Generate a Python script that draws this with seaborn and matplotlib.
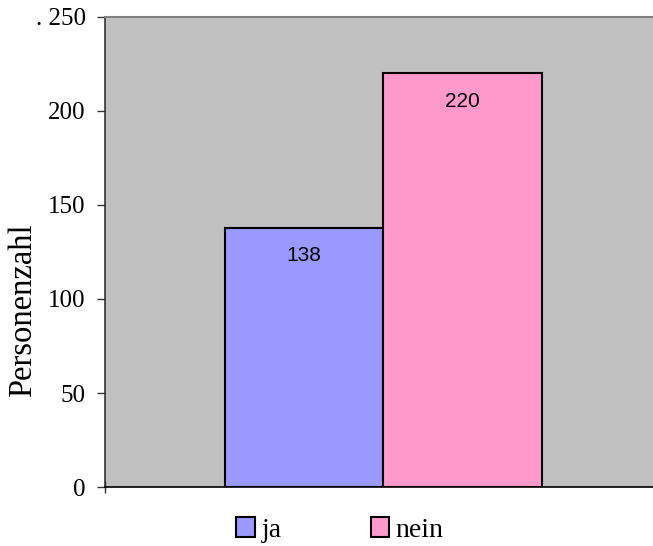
import matplotlib
matplotlib.use("Agg")
import matplotlib.pyplot as plt
import seaborn as sns
import pandas as pd

# Survey answers and head counts
categories = ["ja", "nein"]
counts = [138, 220]
bar_colors = ["#9999FF", "#FF99CC"]
y_ticks = [0, 50, 100, 150, 200, 250]
y_tick_labels = ["0", "50", "100", "150", "200", ". 250"]
y_label = "Personenzahl"

serif = "Liberation Serif"
sans = "Liberation Sans"

df = pd.DataFrame({"Antwort": categories, "Personenzahl": counts})

fig = plt.figure(figsize=(6.53, 5.46), dpi=100)
ax = fig.add_axes([105 / 653, 59 / 546, 548 / 653, 470 / 546])
ax.set_facecolor("#C0C0C0")

sns.barplot(data=df, x="Antwort", y="Personenzahl", hue="Antwort",
            palette=bar_colors, saturation=1, width=1.0, dodge=False,
            legend=False, edgecolor="black", linewidth=1.5, ax=ax, zorder=3)

ax.set_xlim(-1.259, 2.203)
ax.set_ylim(0, 250)

# value labels just under the top of each bar
for patch, val in zip(ax.patches, counts):
    ax.annotate(f"{val}", (patch.get_x() + patch.get_width() / 2, val),
                xytext=(0, -20), textcoords="offset points",
                ha="center", va="center", fontsize=15, family=sans,
                color="black", zorder=4)

ax.set_yticks(y_ticks)
ax.set_yticklabels(y_tick_labels, family=serif, fontsize=18)
ax.tick_params(axis="y", direction="out", length=6, width=1, pad=8,
               color="#333333")
ax.set_xticks([-1.259])
ax.set_xticklabels([""])
ax.tick_params(axis="x", direction="inout", length=8, width=1, color="#333333")
ax.set_xlabel("")
ax.set_ylabel(y_label, family=serif, fontsize=23.5)
ax.yaxis.set_label_coords(-0.122, 0.377)

ax.spines["right"].set_visible(False)
ax.spines["top"].set_color("#808080")
ax.spines["top"].set_linewidth(1.5)
ax.spines["left"].set_color("#333333")
ax.spines["left"].set_linewidth(1.2)
ax.spines["bottom"].set_color("black")
ax.spines["bottom"].set_linewidth(1.2)

handles = [plt.Rectangle((0, 0), 1, 1, facecolor=c, edgecolor="black",
                         linewidth=1.5) for c in bar_colors]
fig.legend(handles, categories, loc="center",
           bbox_to_anchor=(340 / 653, 16 / 546), ncol=2, frameon=False,
           prop={"family": serif, "size": 20}, handlelength=0.68,
           handleheight=0.72, handletextpad=0.22, columnspacing=3.2,
           borderpad=0)

fig.savefig("out.png", dpi=100)
